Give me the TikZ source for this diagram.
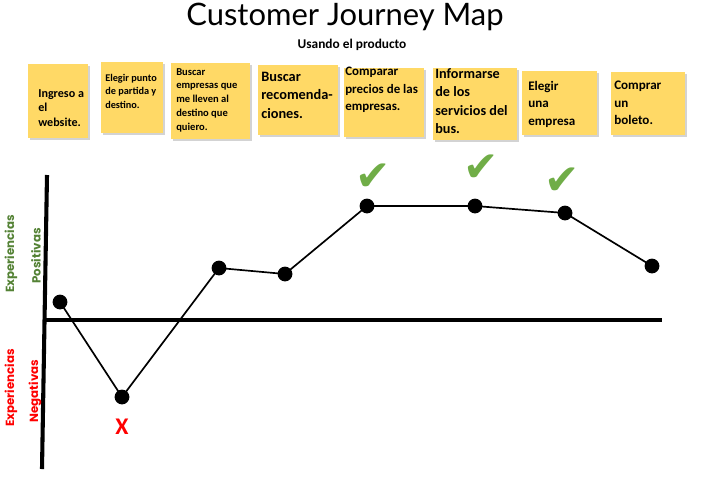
\documentclass[tikz,border=0pt]{standalone}
\usepackage{fontspec}
\setmainfont{Carlito}
\newfontfamily\titlefont{Lato}
\newfontfamily\axisfont{Poppins}
\newfontfamily\symfont{DejaVu Sans}
\usetikzlibrary{shadows}
\definecolor{notegold}{HTML}{FFD966}
\definecolor{goodgreen}{HTML}{70AD47}
\definecolor{axisgreen}{HTML}{548235}
\definecolor{badred}{HTML}{FF0000}

\begin{document}
\begin{tikzpicture}[x=0.025cm,y=-0.025cm,
  note/.style={fill=notegold, draw=none, inner sep=0pt, anchor=north west,
    drop shadow={shadow xshift=1.3pt, shadow yshift=-1.3pt, opacity=.35}},
  notetext/.style={anchor=north west, align=left, inner sep=0pt},
  dot/.style={circle, fill=black, inner sep=0pt, minimum size=0.37cm},
  axisline/.style={line width=2.9pt},
  journey/.style={line width=1.2pt},
  axislabel/.style={rotate=90, font=\axisfont\bfseries\fontsize{8.4}{10}\selectfont}]
  \useasboundingbox (0,0) rectangle (703,482);

  % title
  \node (title) at (345,17) {\titlefont\fontsize{22}{25}\selectfont Customer Journey Map};
  \node (subtitle) at (352,45) {\bfseries\fontsize{9.5}{11}\selectfont Usando el producto};

  % sticky notes
  \foreach \i/\x/\y/\w/\h/\tx/\ty/\fs/\ls/\txt in {
    1/28/64/60/74/38/89/8.6/10.3/{Ingreso a\\el\\website.},
    2/101/62/62/71/105/74/7.3/9.6/{Elegir punto\\de partida y\\destino.},
    3/171/63/79/76/176/68/7.5/9.8/{Buscar\\empresas que\\me lleven al\\destino que\\quiero.},
    4/258/65/80/70/261/72/10.2/13/{Buscar\\recomenda-\\ciones.},
    5/344/68/80/69/345/67/9.2/12.4/{Comparar\\precios de las\\empresas.},
    6/433/68/84/72/435/68/10.1/13.2/{Informarse\\de los\\servicios del\\bus.},
    7/522/71/75/64/528/81/9.3/12.4/{Elegir\\una\\empresa},
    8/611/72/74/63/614/81/9.3/12.4/{Comprar\\un\\boleto.}}
  {
    \node[note, minimum width=\w*0.025cm, minimum height=\h*0.025cm] (note\i) at (\x,\y) {};
    \node[notetext, font={\bfseries\fontsize{\fs}{\ls}\selectfont}] (notetext\i) at (\tx,\ty) {\txt};
  }

  % axes
  \coordinate (ytop) at (47,175);
  \coordinate (ybot) at (42,469);
  \coordinate (xleft) at (44,320);
  \coordinate (xright) at (662,320);
  \draw[axisline] (ytop) -- (ybot);
  \draw[axisline] (xleft) -- (xright);

  \node[axislabel, text=axisgreen] (posexp) at (11,254) {Experiencias};
  \node[axislabel, text=axisgreen] (posadj) at (36,256) {Positivas};
  \node[axislabel, text=badred] (negexp) at (11,388) {Experiencias};
  \node[axislabel, text=badred] (negadj) at (35,391) {Negativas};

  % journey points
  \foreach \i/\x/\y in {1/60/302, 2/122/397, 3/219/268, 4/285/274,
                        5/367/206, 6/475/206, 7/565/213, 8/652/266}
    \node[dot] (p\i) at (\x,\y) {};
  \foreach \a/\b in {1/2, 2/3, 3/4, 4/5, 5/6, 6/7, 7/8}
    \draw[journey] (p\a.center) -- (p\b.center);

  % marks
  \foreach \i/\x/\y in {1/373/177, 2/481/168, 3/562/181}
    \node[text=goodgreen] (check\i) at (\x,\y) {\symfont\fontsize{30}{32}\selectfont ✔};
  \node[text=badred] (cross) at (122,427) {\bfseries\fontsize{17}{19}\selectfont X};
\end{tikzpicture}
\end{document}
